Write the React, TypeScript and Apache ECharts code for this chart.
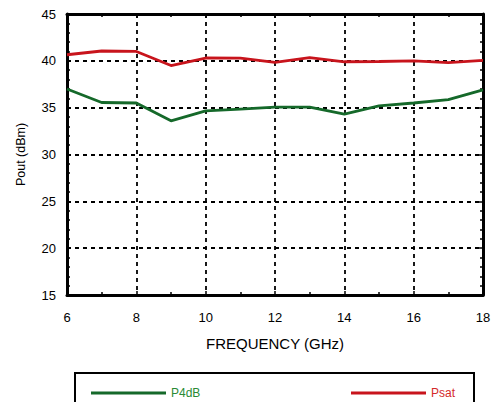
import React, { useEffect, useRef } from "react";
import * as echarts from "echarts";

const frequency = [6, 7, 8, 9, 10, 11, 12, 13, 14, 15, 16, 17, 18];
const p4dB = [37.0, 35.55, 35.5, 33.6, 34.65, 34.85, 35.05, 35.05, 34.3, 35.2, 35.5, 35.85, 36.9];
const psat = [40.65, 41.05, 41.0, 39.5, 40.3, 40.28, 39.83, 40.35, 39.9, 39.93, 40.0, 39.8, 40.05];

const GREEN = "#15692a";
const RED = "#c8141c";
const FONT = "Liberation Sans, Arial, Helvetica, sans-serif";

export default function App() {
  const ref = useRef<HTMLDivElement>(null);
  useEffect(() => {
    if (!ref.current) return;
    const chart = echarts.init(ref.current, undefined, { renderer: "svg" });
    const tickCommon = {
      axisTick: { show: true, inside: true, length: 4, lineStyle: { color: "#000", width: 1.5 } },
      minorTick: { show: true, length: 3, lineStyle: { color: "#000", width: 1.5 } },
      axisLine: { show: true, lineStyle: { color: "#000", width: 3 } },
    };
    chart.setOption({
      animation: false,
      textStyle: { fontFamily: FONT },
      grid: { left: 67, top: 14, width: 416, height: 281, containLabel: false },
      xAxis: [
        {
          type: "value",
          min: 6,
          max: 18,
          interval: 2,
          position: "bottom",
          name: "FREQUENCY (GHz)",
          nameLocation: "middle",
          nameGap: 41,
          nameTextStyle: { fontSize: 15, color: "#000", fontFamily: FONT },
          axisLabel: { fontSize: 13, color: "#000", margin: 16, fontFamily: FONT },
          splitLine: { show: true, lineStyle: { color: "#000", type: [4, 4], width: 1.8 } },
          ...tickCommon,
          minorTick: { ...tickCommon.minorTick, splitNumber: 2 },
        },
        {
          type: "value",
          min: 6,
          max: 18,
          interval: 2,
          position: "top",
          axisLabel: { show: false },
          splitLine: { show: false },
          ...tickCommon,
          minorTick: { ...tickCommon.minorTick, splitNumber: 2 },
        },
      ],
      yAxis: [
        {
          type: "value",
          min: 15,
          max: 45,
          interval: 5,
          position: "left",
          name: "Pout (dBm)",
          nameLocation: "middle",
          nameGap: 40,
          nameTextStyle: { fontSize: 12.5, color: "#000", fontFamily: FONT },
          axisLabel: { fontSize: 13, color: "#000", margin: 11, fontFamily: FONT },
          splitLine: { show: true, lineStyle: { color: "#000", type: [4, 4], width: 1.8 } },
          ...tickCommon,
          minorTick: { ...tickCommon.minorTick, splitNumber: 5 },
        },
        {
          type: "value",
          min: 15,
          max: 45,
          interval: 5,
          position: "right",
          axisLabel: { show: false },
          splitLine: { show: false },
          ...tickCommon,
          minorTick: { ...tickCommon.minorTick, splitNumber: 5 },
        },
      ],
      legend: [
        {
          left: 86,
          top: 382,
          icon: "rect",
          itemWidth: 75,
          itemHeight: 3,
          itemGap: 0,
          data: [{ name: "P4dB", textStyle: { color: "#2a8a35" } }],
          textStyle: { fontSize: 12, fontFamily: FONT },
        },
        {
          left: 346,
          top: 382,
          icon: "rect",
          itemWidth: 75,
          itemHeight: 3,
          itemGap: 0,
          data: [{ name: "Psat", textStyle: { color: "#d42a2a" } }],
          textStyle: { fontSize: 12, fontFamily: FONT },
        },
      ],
      graphic: [
        {
          type: "rect",
          shape: { x: 75, y: 373, width: 399, height: 60 },
          style: { fill: "none", stroke: "#000", lineWidth: 2 },
          silent: true,
        },
      ],
      series: [
        {
          name: "P4dB",
          type: "line",
          data: frequency.map((f, i) => [f, p4dB[i]]),
          showSymbol: false,
          symbol: "none",
          lineStyle: { color: GREEN, width: 2.8 },
          itemStyle: { color: GREEN },
          z: 5,
        },
        {
          name: "Psat",
          type: "line",
          data: frequency.map((f, i) => [f, psat[i]]),
          showSymbol: false,
          symbol: "none",
          lineStyle: { color: RED, width: 2.8 },
          itemStyle: { color: RED },
          z: 5,
        },
      ],
    });
    return () => chart.dispose();
  }, []);
  return <div ref={ref} style={{ width: 494, height: 402, position: "absolute", left: 0, top: 0 }} />;
}
